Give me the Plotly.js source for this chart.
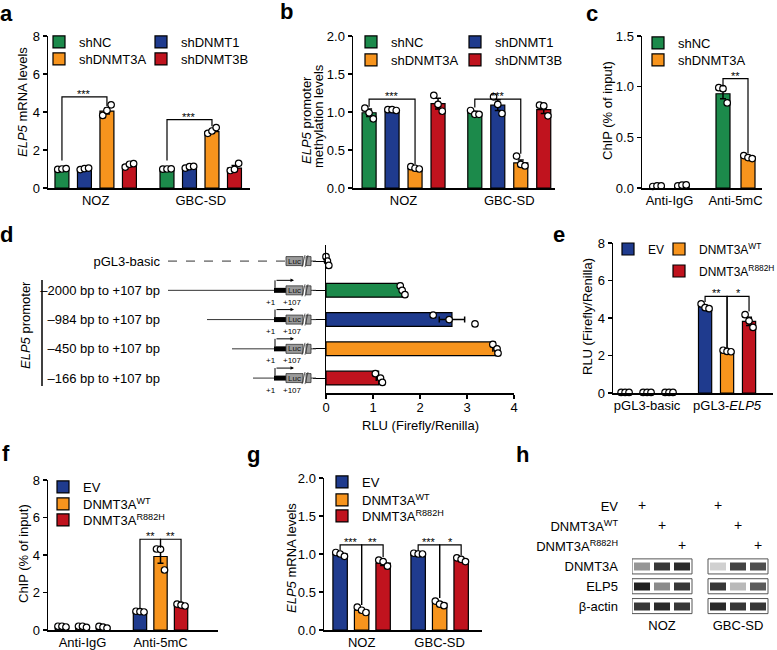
<!DOCTYPE html>
<html><head><meta charset="utf-8">
<script src="https://cdn.plot.ly/plotly-3.0.1.min.js"></script>
<style>html,body{margin:0;padding:0;background:#fff}#chart{width:777px;height:650px}</style>
</head><body><div id="chart"></div>
<script>
// ================= DATA =================
// Panel a
const aGroups = ['NOZ', 'GBC-SD'];
const aSeries = ['shNC', 'shDNMT1', 'shDNMT3A', 'shDNMT3B'];
const aMean = [[1.00, 1.00], [1.01, 1.10], [4.05, 2.97], [1.21, 1.05]];
const aErr  = [[0.02, 0.02], [0.03, 0.04], [0.15, 0.09], [0.06, 0.13]];
const aPts  = [[[0.98, 1.00, 1.02], [0.99, 1.00, 1.01]],
               [[0.97, 1.02, 1.05], [1.05, 1.12, 1.14]],
               [[3.82, 4.08, 4.38], [2.88, 3.00, 3.18]],
               [[1.10, 1.25, 1.28], [0.92, 0.98, 1.30]]];
const aSig  = [[0, 0, 2, 4.8, 1.45, 4.3, '***'], [1, 0, 2, 3.6, 1.45, 3.25, '***']];
// Panel b
const bGroups = ['NOZ', 'GBC-SD'];
const bSeries = ['shNC', 'shDNMT1', 'shDNMT3A', 'shDNMT3B'];
const bMean = [[0.99, 0.99], [1.01, 1.09], [0.255, 0.33], [1.11, 1.03]];
const bErr  = [[0.05, 0.02], [0.01, 0.07], [0.01, 0.04], [0.07, 0.05]];
const bPts  = [[[1.05, 0.99, 0.91], [1.02, 0.97, 0.97]],
               [[1.03, 1.03, 1.02], [1.20, 1.10, 0.98]],
               [[0.28, 0.26, 0.25], [0.42, 0.31, 0.29]],
               [[1.22, 1.10, 1.01], [1.09, 1.08, 0.95]]];
const bSig  = [[0, 0, 2, 1.17, 1.07, 0.31, '***'], [1, 0, 2, 1.17, 1.06, 0.45, '***']];
// Panel c
const cGroups = ['Anti-IgG', 'Anti-5mC'];
const cSeries = ['shNC', 'shDNMT3A'];
const cMean = [[0.02, 0.93], [0.025, 0.31]];
const cErr  = [[0.003, 0.05], [0.005, 0.01]];
const cPts  = [[[0.015, 0.02, 0.02], [0.99, 0.98, 0.84]],
               [[0.02, 0.028, 0.03], [0.32, 0.30, 0.29]]];
const cSig  = [[1, 0, 1, 1.08, 1.0, 0.34, '**']];
// Panel d
const dLabels = ['pGL3-basic', '\u20132000 bp to +107 bp', '\u2013984 bp to +107 bp', '\u2013450 bp to +107 bp', '\u2013166 bp to +107 bp'];
const dMean = [0.03, 1.62, 2.68, 3.60, 1.12];
const dErr  = [0.02, 0.03, 0.27, 0.05, 0.05];
const dPts  = [[0.0, 0.03, 0.06], [1.58, 1.62, 1.68], [2.28, 2.62, 3.17], [3.55, 3.64, 3.66], [1.05, 1.16, 1.20]];
// Panel e
const eGroups = ['pGL3-basic', 'pGL3-<i>ELP5</i>'];
const eSeries = ['EV', 'DNMT3A<sup>WT</sup>', 'DNMT3A<sup>R882H</sup>'];
const eMean = [[0.03, 4.60], [0.03, 2.24], [0.03, 3.82]];
const eErr  = [[0.005, 0.08], [0.005, 0.03], [0.005, 0.22]];
const ePts  = [[[0.03, 0.03, 0.03], [4.75, 4.55, 4.50]],
               [[0.03, 0.03, 0.03], [2.28, 2.22, 2.20]],
               [[0.03, 0.03, 0.03], [4.18, 3.85, 3.50]]];
const eSig  = [[1, 0, 1, 5.15, 4.85, 2.4, '**'], [1, 1, 2, 5.15, 2.4, 4.35, '*']];
// Panel f
const fGroups = ['Anti-IgG', 'Anti-5mC'];
const fSeries = ['EV', 'DNMT3A<sup>WT</sup>', 'DNMT3A<sup>R882H</sup>'];
const fMean = [[0.18, 0.98], [0.18, 3.92], [0.15, 1.33]];
const fErr  = [[0.02, 0.02], [0.03, 0.36], [0.03, 0.03]];
const fPts  = [[[0.20, 0.20, 0.16], [1.00, 0.98, 0.96]],
               [[0.20, 0.20, 0.14], [4.32, 4.30, 3.20]],
               [[0.19, 0.15, 0.10], [1.38, 1.33, 1.28]]];
const fSig  = [[1, 0, 1, 4.84, 1.1, 4.4, '**'], [1, 1, 2, 4.84, 4.4, 1.45, '**']];
// Panel g
const gGroups = ['NOZ', 'GBC-SD'];
const gSeries = ['EV', 'DNMT3A<sup>WT</sup>', 'DNMT3A<sup>R882H</sup>'];
const gMean = [[1.00, 1.00], [0.26, 0.35], [0.88, 0.92]];
const gErr  = [[0.02, 0.005], [0.02, 0.02], [0.03, 0.02]];
const gPts  = [[[1.02, 1.00, 0.97], [1.01, 1.00, 1.00]],
               [[0.30, 0.26, 0.23], [0.38, 0.34, 0.32]],
               [[0.92, 0.90, 0.84], [0.95, 0.93, 0.90]]];
const gSig  = [[0, 0, 1, 1.12, 1.05, 0.33, '***'], [0, 1, 2, 1.12, 0.33, 0.96, '**'],
               [1, 0, 1, 1.12, 1.04, 0.42, '***'], [1, 1, 2, 1.12, 0.42, 0.98, '*']];
// Panel h (western blot)
const hRows = ['EV', 'DNMT3A<sup>WT</sup>', 'DNMT3A<sup>R882H</sup>', 'DNMT3A', 'ELP5', '\u03b2-actin'];
const hLines = ['NOZ', 'GBC-SD'];
const hDesign = [[1, 0, 0], [0, 1, 0], [0, 0, 1]];   // EV / WT / R882H per lane
const hBandNOZ = [[0.45, 0.85, 0.90], [0.95, 0.50, 0.85], [0.85, 0.90, 0.85]];
const hBandGBC = [[0.20, 0.80, 0.75], [0.85, 0.30, 0.70], [0.90, 0.85, 0.85]];

// ================= STYLE / LAYOUT =================
const W = 777, H = 650;
const FONT = 'Arial, "Liberation Sans", sans-serif';
const GREEN = '#1c8a4b', BLUE = '#1f3b8e', ORANGE = '#f7941d', RED = '#c0131e';
const JIT = [-0.3, 0, 0.3];
const bars = [], dots = [], heats = [], annotations = [], shapes = [];
const layout = {
  width: W, height: H, margin: {l: 0, r: 0, t: 0, b: 0, autoexpand: false}, paper_bgcolor: '#fff', plot_bgcolor: 'rgba(0,0,0,0)',
  barmode: 'overlay', showlegend: true, font: {family: FONT, size: 13, color: '#000'},
  annotations, shapes
};
const P = v => v / W, Q = v => 1 - v / H;
let legendCount = 0;
function dom(p) { return {x: [p.x[0] / W, p.x[1] / W], y: [1 - p.y[1] / H, 1 - p.y[0] / H]}; }
function axisBase() {
  return {showgrid: false, zeroline: false, showline: true, linecolor: '#000', linewidth: 1.5,
    ticks: 'outside', ticklen: 4, tickwidth: 1.2, tickcolor: '#000',
    tickfont: {family: FONT, size: 13, color: '#000'}, fixedrange: true};
}
function yTitle(text, x, y) {
  annotations.push({xref: 'paper', yref: 'paper', x: P(x), y: Q(y), xanchor: 'center', yanchor: 'middle',
    text, textangle: -90, showarrow: false, font: {family: FONT, size: 13, color: '#000'}});
}
function newLegend(cx, cy, fs) {
  legendCount += 1;
  const id = legendCount === 1 ? 'legend' : 'legend' + legendCount;
  layout[id] = {x: (cx - 20) / W, y: 1 - cy / H, xanchor: 'left', yanchor: 'middle', orientation: 'h',
    bgcolor: 'rgba(0,0,0,0)', borderwidth: 0,
    font: {family: FONT, size: fs || 13, color: '#000'}, itemclick: false, itemdoubleclick: false};
  return id;
}
function addBarPanel(c) {
  const xa = 'x' + c.ax, ya = 'y' + c.ax;
  const pos = (g, s) => g * c.off + s;
  c.series.forEach((name, s) => {
    const lg = newLegend(c.legendPos[s][0], c.legendPos[s][1], c.legendFont);
    bars.push({type: 'bar', name, legend: lg, xaxis: xa, yaxis: ya,
      x: c.groups.map((_, g) => pos(g, s)), y: c.mean[s], width: c.bw,
      marker: {color: c.colors[s], line: {color: '#000', width: 1.2}},
      error_y: {type: 'data', array: c.err[s], visible: true, color: '#000', thickness: 1.5, width: 3},
      hoverinfo: 'skip'});
    const xs = [], ys = [];
    c.groups.forEach((_, g) => c.pts[s][g].forEach((v, k) => { xs.push(pos(g, s) + JIT[k] * c.bw); ys.push(v); }));
    dots.push({type: 'scatter', mode: 'markers', showlegend: false, xaxis: xa, yaxis: ya, x: xs, y: ys,
      cliponaxis: false, hoverinfo: 'skip',
      marker: {symbol: 'circle', size: 6.5, color: '#fff', line: {color: '#000', width: 1.2}}});
  });
  const lx = [], ly = [];
  c.sig.forEach(([g, s1, s2, top, l, r, lab]) => {
    const x1 = pos(g, s1), x2 = pos(g, s2);
    lx.push(x1, x1, x2, x2, null); ly.push(l, top, top, r, null);
    annotations.push({xref: xa, yref: ya, x: (x1 + x2) / 2, y: top, text: lab, showarrow: false,
      xanchor: 'center', yanchor: 'bottom', yshift: -5, font: {family: FONT, size: 11, color: '#000'}});
  });
  dots.push({type: 'scatter', mode: 'lines', showlegend: false, xaxis: xa, yaxis: ya, x: lx, y: ly,
    line: {color: '#000', width: 1.2}, hoverinfo: 'skip', cliponaxis: false});
  const d = dom(c);
  layout['xaxis' + c.ax] = Object.assign(axisBase(), {domain: d.x, range: c.range, anchor: ya,
    tickvals: c.groups.map((_, g) => pos(g, (c.series.length - 1) / 2)), ticktext: c.groups, ticks: ''});
  layout['yaxis' + c.ax] = Object.assign(axisBase(), {domain: d.y, range: c.yrange, anchor: xa,
    dtick: c.dtick, tickformat: c.fmt});
}

// ---- panels a, b, c, e, f, g
addBarPanel({ax: '', x: [48, 250], y: [36, 188], range: [-0.62, 8.36], off: 4.67, bw: 0.62,
  groups: aGroups, series: aSeries, mean: aMean, err: aErr, pts: aPts, sig: aSig,
  colors: [GREEN, BLUE, ORANGE, RED], legendPos: [[59, 42], [161, 42], [59, 59], [161, 59]],
  yrange: [0, 8], dtick: 2, fmt: 'd'});
addBarPanel({ax: '2', x: [353, 555], y: [36, 188], range: [-0.7, 8.09], off: 4.6, bw: 0.61,
  groups: bGroups, series: bSeries, mean: bMean, err: bErr, pts: bPts, sig: bSig,
  colors: [GREEN, BLUE, ORANGE, RED], legendPos: [[371, 42], [475, 42], [371, 60], [475, 60]],
  yrange: [0, 2], dtick: 0.5, fmt: '.1f'});
addBarPanel({ax: '3', x: [642, 762], y: [36, 188], range: [-0.6, 4.2], off: 2.64, bw: 0.56,
  groups: cGroups, series: cSeries, mean: cMean, err: cErr, pts: cPts, sig: cSig,
  colors: [GREEN, ORANGE], legendPos: [[658, 43], [658, 60]],
  yrange: [0, 1.5], dtick: 0.5, fmt: '.1f'});
addBarPanel({ax: '5', x: [613, 773], y: [243, 393], range: [-0.55, 6.73], off: 3.64, bw: 0.6,
  groups: eGroups, series: eSeries, mean: eMean, err: eErr, pts: ePts, sig: eSig,
  colors: [BLUE, ORANGE, RED], legendPos: [[628, 249], [679, 249], [679, 271]], legendFont: 12,
  yrange: [0, 8], dtick: 2, fmt: 'd'});
addBarPanel({ax: '6', x: [48, 218], y: [480, 630], range: [-0.68, 7.6], off: 3.8, bw: 0.65,
  groups: fGroups, series: fSeries, mean: fMean, err: fErr, pts: fPts, sig: fSig,
  colors: [BLUE, ORANGE, RED], legendPos: [[63, 487], [63, 504], [63, 520]],
  yrange: [0, 8], dtick: 2, fmt: 'd'});
addBarPanel({ax: '7', x: [324, 482], y: [478, 630], range: [-0.75, 6.6], off: 3.63, bw: 0.67,
  groups: gGroups, series: gSeries, mean: gMean, err: gErr, pts: gPts, sig: gSig,
  colors: [BLUE, ORANGE, RED], legendPos: [[342, 482], [342, 500], [342, 516]],
  yrange: [0, 2], dtick: 0.5, fmt: '.1f'});

yTitle('<i>ELP5</i> mRNA levels', 22, 102);
yTitle('<i>ELP5</i> promoter', 306, 120);
yTitle('methylation levels', 319, 116);
yTitle('ChIP (% of input)', 607, 111);
yTitle('RLU (Firefly/Renilla)', 588, 317);
yTitle('ChIP (% of input)', 23, 554);
yTitle('<i>ELP5</i> mRNA levels', 291, 558);

// ---- panel d (horizontal)
(function () {
  const g = {x: [326, 514], y: [245, 393]}; const d = dom(g);
  const rows = dLabels.map((_, i) => i);
  bars.push({type: 'bar', orientation: 'h', xaxis: 'x4', yaxis: 'y4', x: dMean, y: rows, width: 0.47, showlegend: false,
    marker: {color: ['#000', GREEN, BLUE, ORANGE, RED], line: {color: '#000', width: 1.2}},
    error_x: {type: 'data', array: dErr, visible: true, color: '#000', thickness: 1.5, width: 3}, hoverinfo: 'skip'});
  const xs = [], ys = [];
  dPts.forEach((arr, r) => arr.forEach((v, k) => { xs.push(v); ys.push(r + [-0.15, 0, 0.15][k]); }));
  dots.push({type: 'scatter', mode: 'markers', showlegend: false, xaxis: 'x4', yaxis: 'y4', x: xs, y: ys, cliponaxis: false,
    hoverinfo: 'skip', marker: {symbol: 'circle', size: 6.5, color: '#fff', line: {color: '#000', width: 1.2}}});
  layout.xaxis4 = Object.assign(axisBase(), {domain: d.x, range: [0, 4], dtick: 1, anchor: 'y4', ticklabelstandoff: -2});
  layout.yaxis4 = Object.assign(axisBase(), {domain: d.y, range: [4.51, -0.55], anchor: 'x4',
    tickvals: rows, ticktext: dLabels, ticklen: 12, tickwidth: 1, ticklabelstandoff: 150});
  annotations.push({xref: 'paper', yref: 'paper', x: P(420), y: Q(425), xanchor: 'center', yanchor: 'middle',
    text: 'RLU (Firefly/Renilla)', showarrow: false, font: {family: FONT, size: 13, color: '#000'}});
  // schematic constructs
  const starts = [168, 168, 207, 232, 253];
  const sh = (r, o) => Object.assign({xref: 'paper', yref: 'y4', ysizemode: 'pixel', yanchor: r, layer: 'above'}, o);
  rows.forEach(r => {
    if (r === 0) {
      shapes.push(sh(r, {type: 'line', x0: P(starts[r]), x1: P(286), y0: 0, y1: 0, line: {color: '#333', width: 1, dash: 'dash'}}));
    } else {
      shapes.push(sh(r, {type: 'line', x0: P(starts[r]), x1: P(274), y0: 0, y1: 0, line: {color: '#333', width: 1}}));
      shapes.push(sh(r, {type: 'rect', x0: P(274), x1: P(286), y0: -2.5, y1: 2.5, fillcolor: '#000', line: {width: 0}}));
      shapes.push(sh(r, {type: 'line', x0: P(275), x1: P(275), y0: 2.5, y1: 10, line: {color: '#000', width: 1}}));
      annotations.push({xref: 'paper', yref: 'y4', x: P(294), y: r, yshift: 10, ax: -19, ay: 0, text: '',
        showarrow: true, arrowhead: 2, arrowsize: 0.7, arrowwidth: 1, arrowcolor: '#000'});
      annotations.push({xref: 'paper', yref: 'y4', x: P(271), y: r, yshift: -12, text: '+1', showarrow: false,
        font: {family: FONT, size: 8, color: '#000'}});
      annotations.push({xref: 'paper', yref: 'y4', x: P(292), y: r, yshift: -12, text: '+107', showarrow: false,
        font: {family: FONT, size: 8, color: '#000'}});
    }
    shapes.push(sh(r, {type: 'rect', x0: P(286), x1: P(303), y0: -4.5, y1: 4.5, fillcolor: '#9a9a9a', line: {color: '#333', width: 0.8}}));
    shapes.push(sh(r, {type: 'rect', x0: P(306), x1: P(311), y0: -4.5, y1: 4.5, fillcolor: '#9a9a9a', line: {color: '#333', width: 0.8}}));
    shapes.push(sh(r, {type: 'line', x0: P(302), x1: P(305), y0: -6, y1: 6, line: {color: '#333', width: 0.8}}));
    shapes.push(sh(r, {type: 'line', x0: P(305), x1: P(308), y0: -6, y1: 6, line: {color: '#333', width: 0.8}}));
    shapes.push(sh(r, {type: 'line', x0: P(311), x1: P(316), y0: 0, y1: 0, line: {color: '#333', width: 1}}));
    annotations.push({xref: 'paper', yref: 'y4', x: P(294.5), y: r, text: 'Luc', showarrow: false,
      font: {family: FONT, size: 8, color: '#111'}});
  });
  shapes.push({type: 'line', xref: 'paper', yref: 'paper', x0: P(42), x1: P(42), y0: Q(280), y1: Q(386), line: {color: '#000', width: 1.5}});
  annotations.push({xref: 'paper', yref: 'paper', x: P(25), y: Q(325), xanchor: 'center', yanchor: 'middle',
    text: '<i>ELP5</i> promoter', textangle: -90, showarrow: false, font: {family: FONT, size: 13, color: '#000'}});
})();

// ---- panel h (blot)
(function () {
  const g = {x: [632, 769], y: [497, 616]}; const d = dom(g);
  const lanes = [[0, 1, 2], [3.8, 4.8, 5.8]];
  const bands = [hBandNOZ, hBandGBC];
  lanes.forEach((lx, i) => {
    heats.push({type: 'heatmap', xaxis: 'x8', yaxis: 'y8', x: lx, y: [3, 4, 5], z: bands[i], zmin: 0, zmax: 1,
      colorscale: [[0, '#ffffff'], [1, '#141414']], showscale: false, xgap: 4, ygap: 12, hoverinfo: 'skip'});
    [3, 4, 5].forEach(r => shapes.push({type: 'rect', xref: 'x8', yref: 'y8', x0: lx[0] - 0.5, x1: lx[2] + 0.5,
      y0: r - 0.38, y1: r + 0.38, line: {color: '#555', width: 1}}));
  });
  const px = [], py = [];
  lanes.forEach(lx => hDesign.forEach((row, r) => row.forEach((on, k) => { if (on) { px.push(lx[k]); py.push(r); } })));
  dots.push({type: 'scatter', mode: 'text', xaxis: 'x8', yaxis: 'y8', x: px, y: py, text: px.map(() => '+'),
    textfont: {family: FONT, size: 14, color: '#000'}, showlegend: false, hoverinfo: 'skip', cliponaxis: false});
  layout.xaxis8 = {domain: d.x, range: [-0.5, 6.35], anchor: 'y8', showgrid: false, zeroline: false, showline: false,
    ticks: '', tickvals: [1, 4.8], ticktext: hLines, tickfont: {family: FONT, size: 13, color: '#000'}, fixedrange: true};
  layout.yaxis8 = {domain: d.y, range: [5.5, -0.5], anchor: 'x8', showgrid: false, zeroline: false, showline: false,
    ticks: '', tickvals: [0, 1, 2, 3, 4, 5], ticktext: hRows, ticklabelstandoff: 13,
    tickfont: {family: FONT, size: 13, color: '#000'}, fixedrange: true};
})();

// ---- panel letters
[['a', 6, 13], ['b', 286, 12], ['c', 592, 13], ['d', 6, 234], ['e', 559, 234], ['f', 6, 453], ['g', 254, 455], ['h', 522, 455]]
  .forEach(([t, x, y]) => annotations.push({xref: 'paper', yref: 'paper', x: x / W, y: 1 - y / H, text: '<b>' + t + '</b>',
    showarrow: false, xanchor: 'center', yanchor: 'middle', font: {family: FONT, size: 22, color: '#000'}}));

Plotly.newPlot('chart', [...bars, ...heats, ...dots], layout, {staticPlot: true, displayModeBar: false});
</script></body></html>
